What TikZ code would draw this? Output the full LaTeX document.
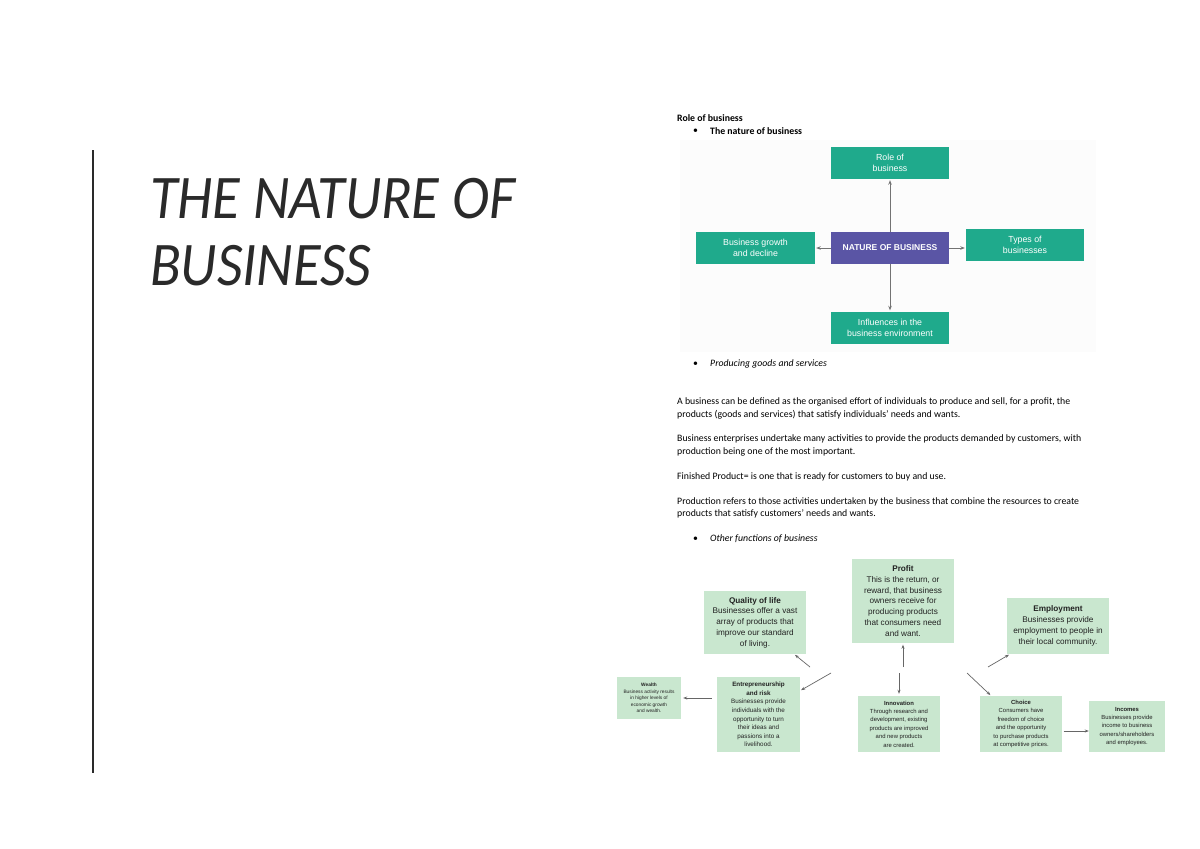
\documentclass[tikz,border=0pt]{standalone}
\usepackage{fontspec}
\setmainfont{Carlito}
\newfontfamily\hv{Liberation Sans}
\newfontfamily\titlefont[FakeStretch=0.91]{Carlito}
\usetikzlibrary{arrows.meta,calc}
\definecolor{teal1}{HTML}{1FAA8C}
\definecolor{purp1}{HTML}{5A55A5}
\definecolor{pgreen}{HTML}{C9E7CF}
\definecolor{ink}{HTML}{222222}
\definecolor{titleink}{HTML}{2A2A2A}
\tikzset{
  tbox/.style={fill=teal1, text=white, align=center, inner sep=0pt, minimum width=118pt, minimum height=32pt, font=\hv\fontsize{8.8}{10.6}\selectfont},
  cbox/.style={tbox, fill=purp1, font=\hv\bfseries\fontsize{8.5}{10}\selectfont},
  tarr/.style={draw=black!55, line width=1pt, -{Stealth[length=4.5pt,width=3.5pt]}},
  barr/.style={draw=black!60, line width=0.7pt, -{Stealth[length=4pt,width=3pt]}},
  gbox/.style={fill=pgreen, text=ink, align=center, inner sep=0pt},
  bigtxt/.style={font=\hv\fontsize{8.2}{10.8}\selectfont},
  smtxt/.style={font=\hv\fontsize{6.3}{8.6}\selectfont},
  tinytxt/.style={font=\hv\fontsize{4.8}{6.5}\selectfont},
  body/.style={anchor=west, inner sep=0pt, text=black, font=\fontsize{9.8}{11.5}\selectfont},
}
\begin{document}
\begin{tikzpicture}[x=1pt,y=-1pt]
\useasboundingbox (0,0) rectangle (1200,849);
\fill[white] (0,0) rectangle (1200,849);
% left title
\draw[line width=2pt, titleink] (93,150) -- (93,773);
\node[anchor=base west, inner sep=0pt, text=titleink, font=\titlefont\itshape\fontsize{62}{67}\selectfont] (t1) at (150,218) {THE NATURE OF};
\node[anchor=base west, inner sep=0pt, text=titleink, font=\titlefont\itshape\fontsize{62}{67}\selectfont] (t2) at (150,285) {BUSINESS};
% right body
\node[body, font=\bfseries\fontsize{9.8}{11.5}\selectfont] (h1) at (677,118) {Role of business};
\node[body] (b1) at (693,131) {•};
\node[body, font=\bfseries\fontsize{9.8}{11.5}\selectfont] (h2) at (710,131) {The nature of business};
% top diagram
\fill[black!1] (680,140) rectangle (1096,352);
\node[tbox] (role) at (890,163) {Role of\\business};
\node[cbox] (nature) at (890,248) {NATURE OF BUSINESS};
\node[tbox, minimum width=119pt] (growth) at (755.5,248) {Business growth\\and decline};
\node[tbox] (types) at (1025,245) {Types of\\businesses};
\node[tbox] (infl) at (890,328) {Influences in the\\business environment};
\draw[tarr, shorten >=1pt] (nature.north) -- (role.south);
\draw[tarr, shorten >=1pt] (nature.west) -- (growth.east);
\draw[tarr, shorten >=1pt] (nature.east) -- (types.west |- nature.east);
\draw[tarr, shorten >=1.5pt] (nature.south) -- (infl.north);
% bullets and paragraphs
\node[body] (b2) at (693,364) {•};
\node[body, font=\itshape\fontsize{9.8}{11.5}\selectfont] (p0) at (710,364) {Producing goods and services};
\node[body] (p1) at (677,402) {A business can be defined as the organised effort of individuals to produce and sell, for a profit, the};
\node[body] (p2) at (677,414.5) {products (goods and services) that satisfy individuals’ needs and wants.};
\node[body] (p3) at (677,439) {Business enterprises undertake many activities to provide the products demanded by customers, with};
\node[body] (p4) at (677,451.5) {production being one of the most important.};
\node[body] (p5) at (677,476.5) {Finished Product= is one that is ready for customers to buy and use.};
\node[body] (p6) at (677,501.5) {Production refers to those activities undertaken by the business that combine the resources to create};
\node[body] (p7) at (677,514) {products that satisfy customers’ needs and wants.};
\node[body] (b3) at (693,539) {•};
\node[body, font=\itshape\fontsize{9.8}{11.5}\selectfont] (p8) at (710,539) {Other functions of business};
% bottom diagram
\node[gbox, bigtxt, minimum width=102pt, minimum height=63pt] (quality) at (755,622.5) {\textbf{Quality of life}\\Businesses offer a vast\\array of products that\\improve our standard\\of living.};
\node[gbox, bigtxt, minimum width=102pt, minimum height=84pt] (profit) at (903,601) {\textbf{Profit}\\This is the return, or\\reward, that business\\owners receive for\\producing products\\that consumers need\\and want.};
\node[gbox, bigtxt, minimum width=102pt, minimum height=56pt] (employ) at (1058,626) {\textbf{Employment}\\Businesses provide\\employment to people in\\their local community.};
\node[gbox, tinytxt, minimum width=64pt, minimum height=42pt] (wealth) at (649,698) {\textbf{Wealth}\\Business activity results\\in higher levels of\\economic growth\\and wealth.};
\node[gbox, smtxt, minimum width=83pt, minimum height=75pt] (entre) at (758.5,714.5) {\textbf{Entrepreneurship}\\\textbf{and risk}\\Businesses provide\\individuals with the\\opportunity to turn\\their ideas and\\passions into a\\livelihood.};
\node[gbox, font=\hv\fontsize{5.9}{8.4}\selectfont, minimum width=82pt, minimum height=56pt] (innov) at (899,724) {\textbf{Innovation}\\Through research and\\development, existing\\products are improved\\and new products\\are created.};
\node[gbox, font=\hv\fontsize{5.9}{8.4}\selectfont, minimum width=82pt, minimum height=56pt] (choice) at (1021,724) {\textbf{Choice}\\Consumers have\\freedom of choice\\and the opportunity\\to purchase products\\at competitive prices.};
\node[gbox, font=\hv\fontsize{5.9}{8.4}\selectfont, minimum width=76pt, minimum height=51pt] (incomes) at (1127,726.5) {\textbf{Incomes}\\Businesses provide\\income to business\\owners/shareholders\\and employees.};
\coordinate (qs) at (810,667);
\coordinate (es) at (831,673);
\coordinate (ps) at (903,667);
\coordinate (is) at (899,673);
\coordinate (ms) at (988,667);
\coordinate (cs) at (967,673);
\draw[barr, shorten >=1pt] (qs) -- (quality);
\draw[barr, shorten >=1pt] (es) -- (entre);
\draw[barr, shorten >=1.5pt] (ps) -- (profit.south);
\draw[barr, shorten >=2pt] (is) -- (innov.north);
\draw[barr, shorten >=1pt] (ms) -- (employ);
\draw[barr, shorten >=1pt] (cs) -- (choice);
\draw[barr, shorten <=1.5pt] ([yshift=-7pt]choice.east) -- ([yshift=-7pt]choice.east -| incomes.west);
\draw[barr, shorten <=5pt, shorten >=2pt] (wealth.east -| entre.west) -- (wealth.east);
\end{tikzpicture}
\end{document}
